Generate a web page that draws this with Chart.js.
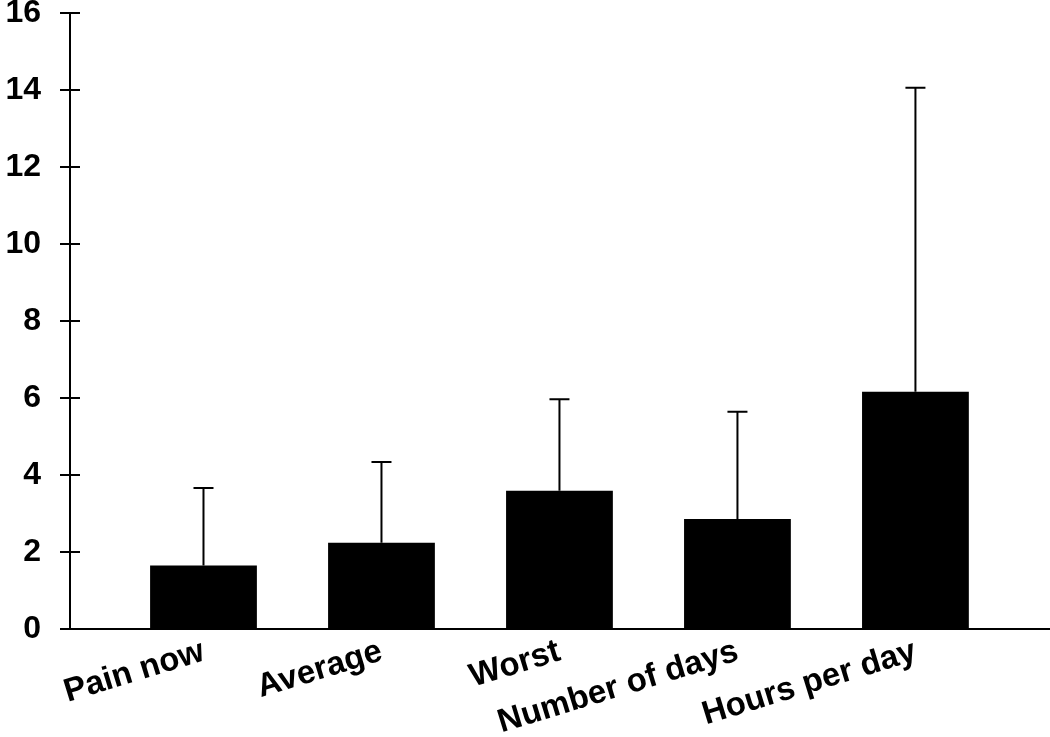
<!DOCTYPE html>
<html>
<head>
<meta charset="utf-8">
<script src="https://cdn.jsdelivr.net/npm/chart.js@4/dist/chart.umd.min.js"></script>
<style>
  html, body { margin: 0; padding: 0; background: #fff; }
  #wrap { width: 1050px; height: 737px; }
</style>
</head>
<body>
<div id="wrap"><canvas id="grafico"></canvas></div>
<script>
let categorias = ['Pain now', 'Average', 'Worst', 'Number of days', 'Hours per day'];
let medias = [1.65, 2.24, 3.59, 2.86, 6.16];
let desvios = [2.01, 2.10, 2.38, 2.78, 7.90];
let yTicks = [0, 2, 4, 6, 8, 10, 12, 14, 16];

let fonte = 'Liberation Sans, Arial, sans-serif';

// barras de erro (so para cima) e marcas internas do eixo y
let barrasErro = {
    id: 'barrasErro',
    afterDatasetsDraw(chart) {
        let ctx = chart.ctx;
        let y = chart.scales.y;
        let meta = chart.getDatasetMeta(0);
        ctx.save();
        ctx.strokeStyle = '#000';
        ctx.lineWidth = 2;
        meta.data.forEach((bar, i) => {
            let topo = y.getPixelForValue(medias[i] + desvios[i]);
            ctx.beginPath();
            ctx.moveTo(bar.x, bar.y);
            ctx.lineTo(bar.x, topo);
            ctx.moveTo(bar.x - 10, topo);
            ctx.lineTo(bar.x + 10, topo);
            ctx.stroke();
        });
        let left = chart.chartArea.left;
        yTicks.forEach(v => {
            let py = y.getPixelForValue(v);
            ctx.beginPath();
            ctx.moveTo(left, py);
            ctx.lineTo(left + 10, py);
            ctx.stroke();
        });
        ctx.restore();
    }
};

let grafico = new Chart(document.getElementById('grafico').getContext('2d'), {
    type: 'bar',
    data: {
        datasets: [{
            data: medias.map((v, i) => ({ x: i, y: v })),
            backgroundColor: '#000000',
            borderWidth: 0,
            barPercentage: 0.6,
            categoryPercentage: 1.0
        }]
    },
    options: {
        responsive: true,
        maintainAspectRatio: false,
        animation: false,
        layout: { padding: { top: 13, right: 0, left: 0, bottom: 0 } },
        plugins: {
            legend: { display: false },
            tooltip: { enabled: false }
        },
        scales: {
            x: {
                type: 'linear',
                offset: false,
                min: -0.75,
                max: 4.756,
                afterBuildTicks: s => { s.ticks = categorias.map((c, i) => ({ value: i })); },
                afterFit: s => { s.height = 108; s.paddingLeft = 0; s.paddingRight = 0; },
                grid: { display: false },
                border: { display: true, color: '#000', width: 2 },
                ticks: {
                    autoSkip: false,
                    minRotation: 17,
                    maxRotation: 17,
                    padding: -5,
                    color: '#000',
                    font: { family: fonte, size: 33, weight: 'bold' },
                    callback: v => categorias[v]
                }
            },
            y: {
                min: 0,
                max: 16,
                afterBuildTicks: s => { s.ticks = yTicks.map(v => ({ value: v })); },
                afterFit: s => { s.width = 70; s.paddingTop = 0; s.paddingBottom = 0; },
                grid: { drawOnChartArea: false, drawTicks: true, tickLength: 10, color: '#000', lineWidth: 2 },
                border: { display: true, color: '#000', width: 2 },
                ticks: {
                    padding: 19,
                    color: '#000',
                    font: { family: fonte, size: 32, weight: 'bold' }
                }
            }
        }
    },
    plugins: [barrasErro]
});
</script>
</body>
</html>
